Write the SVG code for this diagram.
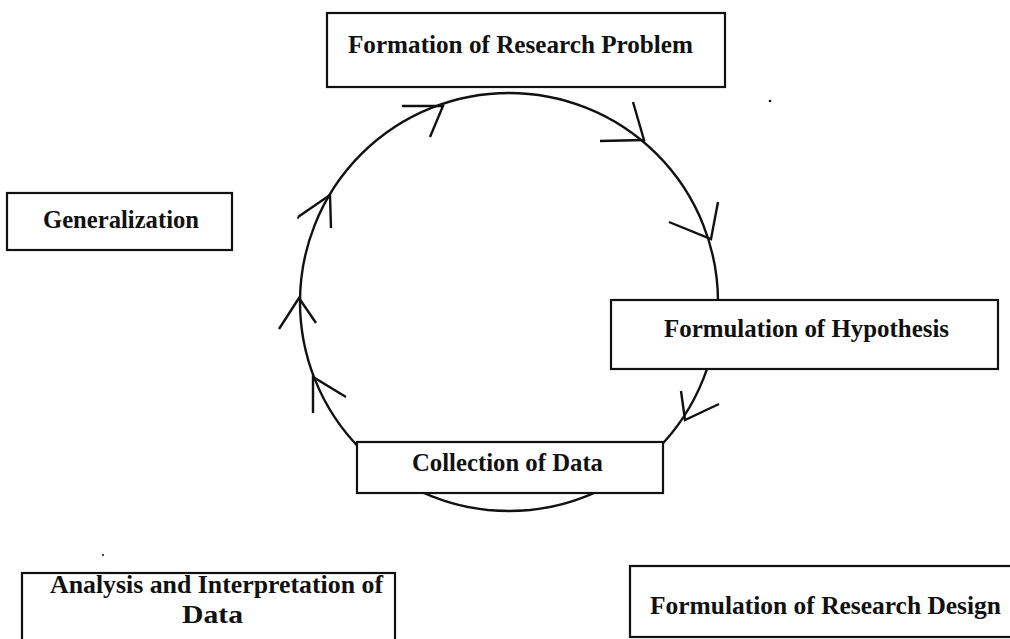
<svg xmlns="http://www.w3.org/2000/svg" width="1010" height="639" viewBox="0 0 1010 639">
<style>
.box{fill:#fff;stroke:#111;stroke-width:2.2}
.lbl{font-family:"Liberation Serif","Times New Roman",serif;font-weight:bold;font-size:26px;fill:#111}
.cyc{fill:none;stroke:#111;stroke-width:2.4}
.ah{fill:none;stroke:#111;stroke-width:2.4;stroke-linejoin:miter}
</style>
<rect width="1010" height="639" fill="#fff"/>
<g id="connectors">
<circle class="cyc" cx="509" cy="302" r="209"/>
<polyline class="ah" points="402,106 443,106 430,137"/>
<polyline class="ah" points="633,102 644,140 600,141"/>
<polyline class="ah" points="718,202 711,239 669,222"/>
<polyline class="ah" points="681,391 685,420 719,404"/>
<polyline class="ah" points="313,413 313,377 346,397"/>
<polyline class="ah" points="279,329 299,298 316,323"/>
<polyline class="ah" points="298,217 330,195 331,228"/>
</g>
<g id="node-problem">
<rect class="box" x="327" y="13" width="398" height="74"/>
<text class="lbl" x="348" y="53" textLength="345" lengthAdjust="spacingAndGlyphs">Formation of Research Problem</text>
</g>
<g id="node-generalization">
<rect class="box" x="7" y="193" width="225" height="57"/>
<text class="lbl" x="43" y="228" textLength="156" lengthAdjust="spacingAndGlyphs">Generalization</text>
</g>
<g id="node-hypothesis">
<rect class="box" x="611" y="300" width="387" height="69"/>
<text class="lbl" x="664" y="337" textLength="285" lengthAdjust="spacingAndGlyphs">Formulation of Hypothesis</text>
</g>
<g id="node-collection">
<rect class="box" x="357" y="442" width="306" height="51"/>
<text class="lbl" x="412" y="471" textLength="191" lengthAdjust="spacingAndGlyphs">Collection of Data</text>
</g>
<g id="node-analysis">
<rect class="box" x="22" y="573" width="373" height="72"/>
<text class="lbl" x="50" y="593" textLength="333" lengthAdjust="spacingAndGlyphs">Analysis and Interpretation of</text>
<text class="lbl" x="182" y="623" textLength="61" lengthAdjust="spacingAndGlyphs">Data</text>
</g>
<g id="node-design">
<rect class="box" x="630" y="566" width="384" height="71"/>
<text class="lbl" x="650" y="614" textLength="351" lengthAdjust="spacingAndGlyphs">Formulation of Research Design</text>
</g>
<g id="specks" fill="#111">
<circle cx="770" cy="101" r="1.3"/>
<circle cx="298" cy="218" r="1"/>
<circle cx="103" cy="555" r="1"/>
</g>
</svg>
